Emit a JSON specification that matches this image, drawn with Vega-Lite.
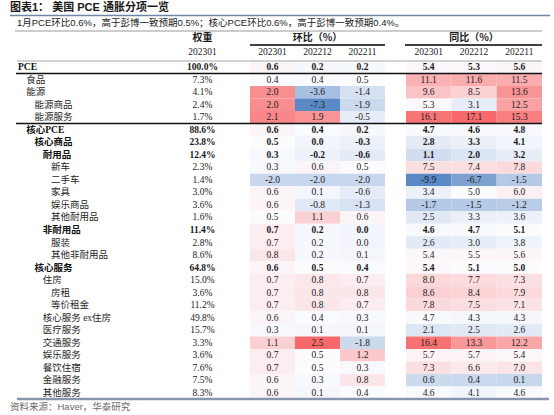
{
  "$schema": "https://vega.github.io/schema/vega-lite/v6.json",
  "width": 554,
  "height": 415,
  "padding": 0,
  "autosize": {"type": "none"},
  "background": "#ffffff",
  "config": {
    "view": {"stroke": null},
    "locale": {"number": {"decimal": ".", "thousands": ",", "grouping": [3], "currency": ["", ""], "minus": "-"}}
  },
  "datasets": {
    "rows": [
      {"i": 1, "name": "PCE", "lv": 0, "w": 1.000, "m1": 0.6, "m2": 0.2, "m3": 0.2, "y1": 5.4, "y2": 5.3, "y3": 5.6},
      {"i": 2, "name": "食品", "lv": 1, "w": 0.073, "m1": 0.4, "m2": 0.4, "m3": 0.5, "y1": 11.1, "y2": 11.6, "y3": 11.5},
      {"i": 3, "name": "能源", "lv": 1, "w": 0.041, "m1": 2.0, "m2": -3.6, "m3": -1.4, "y1": 9.6, "y2": 8.5, "y3": 13.6},
      {"i": 4, "name": "能源商品", "lv": 2, "w": 0.024, "m1": 2.0, "m2": -7.3, "m3": -1.9, "y1": 5.3, "y2": 3.1, "y3": 12.5},
      {"i": 5, "name": "能源服务", "lv": 2, "w": 0.017, "m1": 2.1, "m2": 1.9, "m3": -0.5, "y1": 16.1, "y2": 17.1, "y3": 15.3},
      {"i": 6, "name": "核心PCE", "lv": 1, "w": 0.886, "m1": 0.6, "m2": 0.4, "m3": 0.2, "y1": 4.7, "y2": 4.6, "y3": 4.8},
      {"i": 7, "name": "核心商品", "lv": 2, "w": 0.238, "m1": 0.5, "m2": 0.0, "m3": -0.3, "y1": 2.8, "y2": 3.3, "y3": 4.1},
      {"i": 8, "name": "耐用品", "lv": 3, "w": 0.124, "m1": 0.3, "m2": -0.2, "m3": -0.6, "y1": 1.1, "y2": 2.0, "y3": 3.2},
      {"i": 9, "name": "新车", "lv": 4, "w": 0.023, "m1": 0.3, "m2": 0.6, "m3": 0.5, "y1": 7.5, "y2": 7.4, "y3": 7.8},
      {"i": 10, "name": "二手车", "lv": 4, "w": 0.014, "m1": -2.0, "m2": -2.0, "m3": -2.0, "y1": -9.9, "y2": -6.7, "y3": -1.5},
      {"i": 11, "name": "家具", "lv": 4, "w": 0.030, "m1": 0.6, "m2": 0.1, "m3": -0.6, "y1": 3.4, "y2": 5.0, "y3": 6.0},
      {"i": 12, "name": "娱乐商品", "lv": 4, "w": 0.036, "m1": 0.6, "m2": -0.8, "m3": -1.3, "y1": -1.7, "y2": -1.5, "y3": -1.2},
      {"i": 13, "name": "其他耐用品", "lv": 4, "w": 0.016, "m1": 0.5, "m2": 1.1, "m3": 0.6, "y1": 2.5, "y2": 3.3, "y3": 3.6},
      {"i": 14, "name": "非耐用品", "lv": 3, "w": 0.114, "m1": 0.7, "m2": 0.2, "m3": 0.0, "y1": 4.6, "y2": 4.7, "y3": 5.1},
      {"i": 15, "name": "服装", "lv": 4, "w": 0.028, "m1": 0.7, "m2": 0.2, "m3": 0.0, "y1": 2.6, "y2": 3.0, "y3": 3.8},
      {"i": 16, "name": "其他非耐用品", "lv": 4, "w": 0.086, "m1": 0.8, "m2": 0.2, "m3": 0.1, "y1": 5.4, "y2": 5.5, "y3": 5.6},
      {"i": 17, "name": "核心服务", "lv": 2, "w": 0.648, "m1": 0.6, "m2": 0.5, "m3": 0.4, "y1": 5.4, "y2": 5.1, "y3": 5.0},
      {"i": 18, "name": "住房", "lv": 3, "w": 0.150, "m1": 0.7, "m2": 0.8, "m3": 0.7, "y1": 8.0, "y2": 7.7, "y3": 7.3},
      {"i": 19, "name": "房租", "lv": 4, "w": 0.036, "m1": 0.7, "m2": 0.8, "m3": 0.8, "y1": 8.6, "y2": 8.4, "y3": 7.9},
      {"i": 20, "name": "等价租金", "lv": 4, "w": 0.112, "m1": 0.7, "m2": 0.8, "m3": 0.7, "y1": 7.8, "y2": 7.5, "y3": 7.1},
      {"i": 21, "name": "核心服务 ex住房", "lv": 3, "w": 0.498, "m1": 0.6, "m2": 0.4, "m3": 0.3, "y1": 4.7, "y2": 4.3, "y3": 4.3},
      {"i": 22, "name": "医疗服务", "lv": 3, "w": 0.157, "m1": 0.3, "m2": 0.1, "m3": 0.1, "y1": 2.1, "y2": 2.5, "y3": 2.6},
      {"i": 23, "name": "交通服务", "lv": 3, "w": 0.033, "m1": 1.1, "m2": 2.5, "m3": -1.8, "y1": 16.4, "y2": 13.3, "y3": 12.2},
      {"i": 24, "name": "娱乐服务", "lv": 3, "w": 0.036, "m1": 0.7, "m2": 0.5, "m3": 1.2, "y1": 5.7, "y2": 5.7, "y3": 5.4},
      {"i": 25, "name": "餐饮住宿", "lv": 3, "w": 0.076, "m1": 0.7, "m2": 0.5, "m3": 0.3, "y1": 7.3, "y2": 6.6, "y3": 7.0},
      {"i": 26, "name": "金融服务", "lv": 3, "w": 0.075, "m1": 0.6, "m2": 0.3, "m3": 0.8, "y1": 0.6, "y2": 0.4, "y3": 0.1},
      {"i": 27, "name": "其他服务", "lv": 3, "w": 0.083, "m1": 0.6, "m2": 0.1, "m3": 0.4, "y1": 4.6, "y2": 4.1, "y3": 4.6}
    ],
    "head": [
      {"col": "w", "grp": "权重", "per": "202301"},
      {"col": "m1", "grp": "环比（%）", "per": "202301"},
      {"col": "m2", "grp": "环比（%）", "per": "202212"},
      {"col": "m3", "grp": "环比（%）", "per": "202211"},
      {"col": "y1", "grp": "同比（%）", "per": "202301"},
      {"col": "y2", "grp": "同比（%）", "per": "202212"},
      {"col": "y3", "grp": "同比（%）", "per": "202211"}
    ],
    "frame": [
      {"k": "title", "t": "图表1： 美国 PCE 通胀分项一览"},
      {"k": "info", "t": "1月PCE环比0.6%，高于彭博一致预期0.5%；核心PCE环比0.6%，高于彭博一致预期0.4%。"}
    ],
    "foot": [
      {"k": "foot", "t": "资料来源：Haver，华泰研究"}
    ]
  },
  "resolve": {"scale": {"x": "independent", "y": "independent"}},
  "layer": [
    {
      "data": {"name": "rows"},
      "resolve": {"scale": {"x": "independent", "color": "independent"}},
      "layer": [
        {
          "transform": [{"fold": ["m1", "m2", "m3"], "as": ["col", "v"]}],
          "encoding": {
            "x": {"field": "col", "type": "nominal", "scale": {"domain": ["m1", "m2", "m3"], "range": [250, 385], "paddingInner": 0, "paddingOuter": 0}, "axis": null},
            "y": {"field": "i", "type": "ordinal", "scale": {"range": [61, 399], "paddingInner": 0, "paddingOuter": 0}, "axis": null}
          },
          "layer": [
            {"mark": {"type": "rect", "strokeWidth": 0}, "encoding": {"color": {"field": "v", "type": "quantitative", "scale": {"domain": [-7.3, 0.5, 2.5], "range": ["#5A8AC6", "#FCFCFF", "#F8696B"], "interpolate": "rgb"}, "legend": null}}},
            {"transform": [{"filter": {"not": {"field": "name", "oneOf": ["PCE", "核心PCE", "核心商品", "耐用品", "非耐用品", "核心服务"]}}}],
             "mark": {"type": "text", "font": "Liberation Serif", "fontSize": 9.5, "color": "#1a1a1a", "baseline": "middle"},
             "encoding": {"text": {"field": "v", "type": "quantitative", "format": ".1f"}}},
            {"transform": [{"filter": {"field": "name", "oneOf": ["PCE", "核心PCE", "核心商品", "耐用品", "非耐用品", "核心服务"]}}],
             "mark": {"type": "text", "font": "Liberation Serif", "fontSize": 9.5, "fontWeight": "bold", "color": "#1a1a1a", "baseline": "middle"},
             "encoding": {"text": {"field": "v", "type": "quantitative", "format": ".1f"}}}
          ]
        },
        {
          "transform": [{"fold": ["y1", "y2", "y3"], "as": ["col", "v"]}],
          "encoding": {
            "x": {"field": "col", "type": "nominal", "scale": {"domain": ["y1", "y2", "y3"], "range": [406, 542], "paddingInner": 0, "paddingOuter": 0}, "axis": null},
            "y": {"field": "i", "type": "ordinal", "scale": {"range": [61, 399], "paddingInner": 0, "paddingOuter": 0}, "axis": null}
          },
          "layer": [
            {"mark": {"type": "rect", "strokeWidth": 0}, "encoding": {"color": {"field": "v", "type": "quantitative", "scale": {"domain": [-9.9, 5.0, 17.1], "range": ["#5A8AC6", "#FCFCFF", "#F8696B"], "interpolate": "rgb"}, "legend": null}}},
            {"transform": [{"filter": {"not": {"field": "name", "oneOf": ["PCE", "核心PCE", "核心商品", "耐用品", "非耐用品", "核心服务"]}}}],
             "mark": {"type": "text", "font": "Liberation Serif", "fontSize": 9.5, "color": "#1a1a1a", "baseline": "middle"},
             "encoding": {"text": {"field": "v", "type": "quantitative", "format": ".1f"}}},
            {"transform": [{"filter": {"field": "name", "oneOf": ["PCE", "核心PCE", "核心商品", "耐用品", "非耐用品", "核心服务"]}}],
             "mark": {"type": "text", "font": "Liberation Serif", "fontSize": 9.5, "fontWeight": "bold", "color": "#1a1a1a", "baseline": "middle"},
             "encoding": {"text": {"field": "v", "type": "quantitative", "format": ".1f"}}}
          ]
        },
        {
          "encoding": {
            "x": {"datum": "w", "type": "nominal", "scale": {"domain": ["w"], "range": [180, 225], "paddingInner": 0, "paddingOuter": 0}, "axis": null},
            "y": {"field": "i", "type": "ordinal", "scale": {"range": [61, 399], "paddingInner": 0, "paddingOuter": 0}, "axis": null}
          },
          "layer": [
            {"transform": [{"filter": {"not": {"field": "name", "oneOf": ["PCE", "核心PCE", "核心商品", "耐用品", "非耐用品", "核心服务"]}}}],
             "mark": {"type": "text", "font": "Liberation Serif", "fontSize": 9.5, "color": "#1a1a1a", "baseline": "middle"},
             "encoding": {"text": {"field": "w", "type": "quantitative", "format": ".1%"}}},
            {"transform": [{"filter": {"field": "name", "oneOf": ["PCE", "核心PCE", "核心商品", "耐用品", "非耐用品", "核心服务"]}}],
             "mark": {"type": "text", "font": "Liberation Serif", "fontSize": 9.5, "fontWeight": "bold", "color": "#1a1a1a", "baseline": "middle"},
             "encoding": {"text": {"field": "w", "type": "quantitative", "format": ".1%"}}}
          ]
        },
        {
          "encoding": {
            "x": {"field": "lv", "type": "quantitative", "scale": {"domain": [0, 4], "range": [18, 51], "nice": false, "zero": false}, "axis": null},
            "y": {"field": "i", "type": "ordinal", "scale": {"range": [61, 399], "paddingInner": 0, "paddingOuter": 0}, "axis": null}
          },
          "layer": [
            {"transform": [{"filter": {"not": {"field": "name", "oneOf": ["PCE", "核心PCE", "核心商品", "耐用品", "非耐用品", "核心服务"]}}}],
             "mark": {"type": "text", "font": "Liberation Serif, Noto Sans CJK SC", "fontSize": 9.5, "color": "#262626", "align": "left", "baseline": "middle"},
             "encoding": {"text": {"field": "name", "type": "nominal"}}},
            {"transform": [{"filter": {"field": "name", "oneOf": ["PCE", "核心PCE", "核心商品", "耐用品", "非耐用品", "核心服务"]}}],
             "mark": {"type": "text", "font": "Liberation Serif, Noto Sans CJK SC", "fontSize": 9.5, "fontWeight": "bold", "color": "#111111", "align": "left", "baseline": "middle"},
             "encoding": {"text": {"field": "name", "type": "nominal"}}}
          ]
        },
        {
          "transform": [{"filter": "datum.i == 1"}],
          "mark": {"type": "rule", "color": "#a6a6a6", "strokeWidth": 1},
          "encoding": {
            "y": {"field": "i", "type": "ordinal", "bandPosition": 0, "scale": {"range": [61, 399], "paddingInner": 0, "paddingOuter": 0}, "axis": null},
            "x": {"datum": 0, "type": "quantitative", "scale": {"domain": [0, 1], "range": [17, 542]}, "axis": null},
            "x2": {"datum": 1}
          }
        },
        {
          "transform": [{"filter": "datum.i == 2 || datum.i == 6"}],
          "mark": {"type": "rule", "color": "#111111", "strokeWidth": 1.5},
          "encoding": {
            "y": {"field": "i", "type": "ordinal", "bandPosition": 0, "scale": {"range": [61, 399], "paddingInner": 0, "paddingOuter": 0}, "axis": null},
            "x": {"datum": 0, "type": "quantitative", "scale": {"domain": [0, 1], "range": [16, 542]}, "axis": null},
            "x2": {"datum": 1}
          }
        },
        {
          "transform": [{"filter": "datum.i == 27"}],
          "mark": {"type": "rule", "color": "#8796ad", "strokeWidth": 2.5},
          "encoding": {
            "y": {"field": "i", "type": "ordinal", "bandPosition": 1, "scale": {"range": [61, 399], "paddingInner": 0, "paddingOuter": 0}, "axis": null},
            "x": {"datum": 0, "type": "quantitative", "scale": {"domain": [0, 1], "range": [17, 549]}, "axis": null},
            "x2": {"datum": 1}
          }
        }
      ]
    },
    {
      "data": {"name": "head"},
      "resolve": {"scale": {"x": "independent"}},
      "layer": [
        {
          "transform": [{"filter": "datum.col == 'w'"}],
          "encoding": {
            "x": {"field": "col", "type": "nominal", "scale": {"domain": ["w"], "range": [180, 225], "paddingInner": 0, "paddingOuter": 0}, "axis": null}
          },
          "layer": [
            {"mark": {"type": "text", "font": "Noto Sans CJK SC", "fontSize": 10, "fontWeight": "bold", "color": "#1a1a1a", "baseline": "middle"},
             "encoding": {"y": {"datum": "h1", "type": "nominal", "scale": {"domain": ["h1", "h2"], "range": [31, 59], "paddingInner": 0, "paddingOuter": 0}, "axis": null}, "text": {"field": "grp", "type": "nominal"}}},
            {"mark": {"type": "text", "font": "Liberation Serif", "fontSize": 9.5, "color": "#1a1a1a", "baseline": "middle"},
             "encoding": {"y": {"datum": "h2", "type": "nominal", "scale": {"domain": ["h1", "h2"], "range": [31, 59], "paddingInner": 0, "paddingOuter": 0}, "axis": null}, "text": {"field": "per", "type": "nominal"}}}
          ]
        },
        {
          "transform": [{"filter": {"field": "col", "oneOf": ["m1", "m2", "m3"]}}],
          "encoding": {
            "x": {"field": "col", "type": "nominal", "scale": {"domain": ["m1", "m2", "m3"], "range": [250, 385], "paddingInner": 0, "paddingOuter": 0}, "axis": null}
          },
          "layer": [
            {"transform": [{"filter": "datum.col == 'm2'"}],
             "mark": {"type": "text", "font": "Noto Sans CJK SC", "fontSize": 10, "fontWeight": "bold", "color": "#1a1a1a", "baseline": "middle"},
             "encoding": {"y": {"datum": "h1", "type": "nominal", "scale": {"domain": ["h1", "h2"], "range": [31, 59], "paddingInner": 0, "paddingOuter": 0}, "axis": null}, "text": {"field": "grp", "type": "nominal"}}},
            {"mark": {"type": "text", "font": "Liberation Serif", "fontSize": 9.5, "color": "#1a1a1a", "baseline": "middle"},
             "encoding": {"y": {"datum": "h2", "type": "nominal", "scale": {"domain": ["h1", "h2"], "range": [31, 59], "paddingInner": 0, "paddingOuter": 0}, "axis": null}, "text": {"field": "per", "type": "nominal"}}}
          ]
        },
        {
          "transform": [{"filter": {"field": "col", "oneOf": ["y1", "y2", "y3"]}}],
          "encoding": {
            "x": {"field": "col", "type": "nominal", "scale": {"domain": ["y1", "y2", "y3"], "range": [406, 542], "paddingInner": 0, "paddingOuter": 0}, "axis": null}
          },
          "layer": [
            {"transform": [{"filter": "datum.col == 'y2'"}],
             "mark": {"type": "text", "font": "Noto Sans CJK SC", "fontSize": 10, "fontWeight": "bold", "color": "#1a1a1a", "baseline": "middle"},
             "encoding": {"y": {"datum": "h1", "type": "nominal", "scale": {"domain": ["h1", "h2"], "range": [31, 59], "paddingInner": 0, "paddingOuter": 0}, "axis": null}, "text": {"field": "grp", "type": "nominal"}}},
            {"mark": {"type": "text", "font": "Liberation Serif", "fontSize": 9.5, "color": "#1a1a1a", "baseline": "middle"},
             "encoding": {"y": {"datum": "h2", "type": "nominal", "scale": {"domain": ["h1", "h2"], "range": [31, 59], "paddingInner": 0, "paddingOuter": 0}, "axis": null}, "text": {"field": "per", "type": "nominal"}}}
          ]
        },
        {
          "transform": [{"filter": "datum.col == 'm1'"}],
          "mark": {"type": "rule", "color": "#404040", "strokeWidth": 2},
          "encoding": {
            "y": {"datum": "h2", "type": "nominal", "bandPosition": 0, "scale": {"domain": ["h1", "h2"], "range": [31, 59], "paddingInner": 0, "paddingOuter": 0}, "axis": null},
            "x": {"datum": 0, "type": "quantitative", "scale": {"domain": [0, 1], "range": [250, 385]}, "axis": null},
            "x2": {"datum": 1}
          }
        },
        {
          "transform": [{"filter": "datum.col == 'y1'"}],
          "mark": {"type": "rule", "color": "#404040", "strokeWidth": 2},
          "encoding": {
            "y": {"datum": "h2", "type": "nominal", "bandPosition": 0, "scale": {"domain": ["h1", "h2"], "range": [31, 59], "paddingInner": 0, "paddingOuter": 0}, "axis": null},
            "x": {"datum": 0, "type": "quantitative", "scale": {"domain": [0, 1], "range": [405, 542]}, "axis": null},
            "x2": {"datum": 1}
          }
        }
      ]
    },
    {
      "data": {"name": "frame"},
      "resolve": {"scale": {"x": "independent"}},
      "layer": [
        {
          "transform": [{"filter": "datum.k == 'title'"}],
          "mark": {"type": "text", "font": "Liberation Sans, Noto Sans CJK SC", "fontSize": 11, "fontWeight": "bold", "color": "#1a1a1a", "align": "left", "baseline": "middle"},
          "encoding": {
            "x": {"datum": 0, "type": "quantitative", "scale": {"domain": [0, 1], "range": [10, 550]}, "axis": null},
            "y": {"field": "k", "type": "nominal", "scale": {"domain": ["title", "info"], "range": [0, 31], "paddingInner": 0, "paddingOuter": 0}, "axis": null},
            "text": {"field": "t", "type": "nominal"}
          }
        },
        {
          "transform": [{"filter": "datum.k == 'title'"}],
          "mark": {"type": "rule", "color": "#6f86a8", "strokeWidth": 1.5},
          "encoding": {
            "x": {"datum": 0, "type": "quantitative", "scale": {"domain": [0, 1], "range": [10, 550]}, "axis": null},
            "x2": {"datum": 1},
            "y": {"field": "k", "type": "nominal", "bandPosition": 1, "scale": {"domain": ["title", "info"], "range": [0, 31], "paddingInner": 0, "paddingOuter": 0}, "axis": null}
          }
        },
        {
          "transform": [{"filter": "datum.k == 'info'"}],
          "mark": {"type": "text", "font": "Liberation Sans, Noto Sans CJK SC", "fontSize": 9.5, "color": "#1a1a1a", "align": "left", "baseline": "middle"},
          "encoding": {
            "x": {"datum": 0, "type": "quantitative", "scale": {"domain": [0, 1], "range": [17, 542]}, "axis": null},
            "y": {"field": "k", "type": "nominal", "scale": {"domain": ["title", "info"], "range": [0, 31], "paddingInner": 0, "paddingOuter": 0}, "axis": null},
            "text": {"field": "t", "type": "nominal"}
          }
        },
        {
          "transform": [{"filter": "datum.k == 'info'"}],
          "mark": {"type": "rule", "color": "#9a9a9a", "strokeWidth": 1},
          "encoding": {
            "x": {"datum": 0, "type": "quantitative", "scale": {"domain": [0, 1], "range": [15, 542]}, "axis": null},
            "x2": {"datum": 1},
            "y": {"field": "k", "type": "nominal", "bandPosition": 1, "scale": {"domain": ["title", "info"], "range": [0, 31], "paddingInner": 0, "paddingOuter": 0}, "axis": null}
          }
        }
      ]
    },
    {
      "data": {"name": "foot"},
      "mark": {"type": "text", "font": "Liberation Sans, Noto Sans CJK SC", "fontSize": 9.5, "color": "#6b6b6b", "align": "left", "baseline": "middle"},
      "encoding": {
        "x": {"datum": 0, "type": "quantitative", "scale": {"domain": [0, 1], "range": [10, 550]}, "axis": null},
        "y": {"field": "k", "type": "nominal", "scale": {"domain": ["foot"], "range": [400, 414], "paddingInner": 0, "paddingOuter": 0}, "axis": null},
        "text": {"field": "t", "type": "nominal"}
      }
    }
  ]
}
